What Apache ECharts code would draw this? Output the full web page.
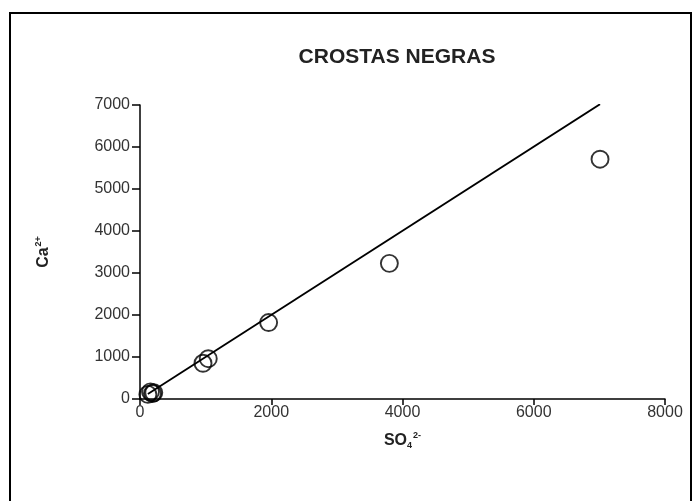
<!DOCTYPE html>
<html>
<head>
<meta charset="utf-8">
<script src="https://cdn.jsdelivr.net/npm/echarts@6/dist/echarts.min.js"></script>
<style>
html,body{margin:0;padding:0;background:#fff;}
#chart{width:697px;height:501px;}
</style>
</head>
<body>
<div id="chart"></div>
<script>
const titleText = 'CROSTAS NEGRAS';
const so4 = [120, 160, 190, 210, 960, 1040, 1960, 3800, 7010];
const ca = [110, 170, 130, 150, 850, 960, 1820, 3230, 5710];
const trendX = [120, 7010];
const trendY = [120, 7020];
const xTicks = [0, 2000, 4000, 6000, 8000];
const yTicks = [0, 1000, 2000, 3000, 4000, 5000, 6000, 7000];

const chart = echarts.init(document.getElementById('chart'), null, {renderer: 'canvas'});
const font = 'Liberation Sans';
chart.setOption({
  backgroundColor: '#fff',
  animation: false,
  title: {
    text: titleText,
    left: 392, top: 42, textAlign: 'center',
    textStyle: {fontFamily: font, fontWeight: 'bold', fontSize: 21, color: '#222'}
  },
  graphic: [{
    type: 'rect', shape: {x: 10, y: 13, width: 681, height: 495},
    style: {fill: 'none', stroke: '#000', lineWidth: 2}, silent: true
  }],
  grid: {left: 140, top: 105, right: 32, bottom: 102},
  xAxis: {
    type: 'value', min: xTicks[0], max: xTicks[xTicks.length - 1], interval: 2000,
    name: '{b|SO}{sub|4}{sup|2-}', nameLocation: 'middle', nameGap: 32,
    nameTextStyle: {
      rich: {
        b: {fontFamily: font, fontWeight: 'bold', fontSize: 16, color: '#222'},
        sub: {fontFamily: font, fontWeight: 'bold', fontSize: 9, color: '#222', verticalAlign: 'bottom', padding: [8, 0, 0, 0]},
        sup: {fontFamily: font, fontWeight: 'bold', fontSize: 9, color: '#222', verticalAlign: 'top', padding: [0, 0, 10, 1]}
      }
    },
    axisLine: {lineStyle: {color: '#000', width: 1.5}},
    axisTick: {show: true, inside: false, length: 6, lineStyle: {color: '#000', width: 1.5}},
    axisLabel: {fontFamily: font, fontSize: 16, color: '#333', margin: 6, formatter: v => String(v)},
    splitLine: {show: false}
  },
  yAxis: {
    type: 'value', min: yTicks[0], max: yTicks[yTicks.length - 1], interval: 1000,
    name: '{b|Ca}{sup|2+}', nameLocation: 'middle', nameGap: 87, nameRotate: 90,
    nameTextStyle: {
      rich: {
        b: {fontFamily: font, fontWeight: 'bold', fontSize: 16, color: '#222'},
        sup: {fontFamily: font, fontWeight: 'bold', fontSize: 9, color: '#222', verticalAlign: 'top', padding: [0, 0, 10, 1]}
      }
    },
    axisLine: {show: true, lineStyle: {color: '#000', width: 1.5}},
    axisTick: {show: true, inside: false, length: 8, lineStyle: {color: '#000', width: 1.5}},
    axisLabel: {fontFamily: font, fontSize: 16, color: '#333', margin: 10, formatter: v => String(v)},
    splitLine: {show: false}
  },
  series: [
    {
      type: 'line', data: trendX.map((x, i) => [x, trendY[i]]),
      symbol: 'none', lineStyle: {color: '#000', width: 1.8}, z: 2
    },
    {
      type: 'scatter', data: so4.map((x, i) => [x, ca[i]]),
      symbol: 'circle', symbolSize: 17,
      itemStyle: {color: 'rgba(255,255,255,0)', borderColor: '#000', borderWidth: 1.9}, z: 3
    }
  ]
});
</script>
</body>
</html>
